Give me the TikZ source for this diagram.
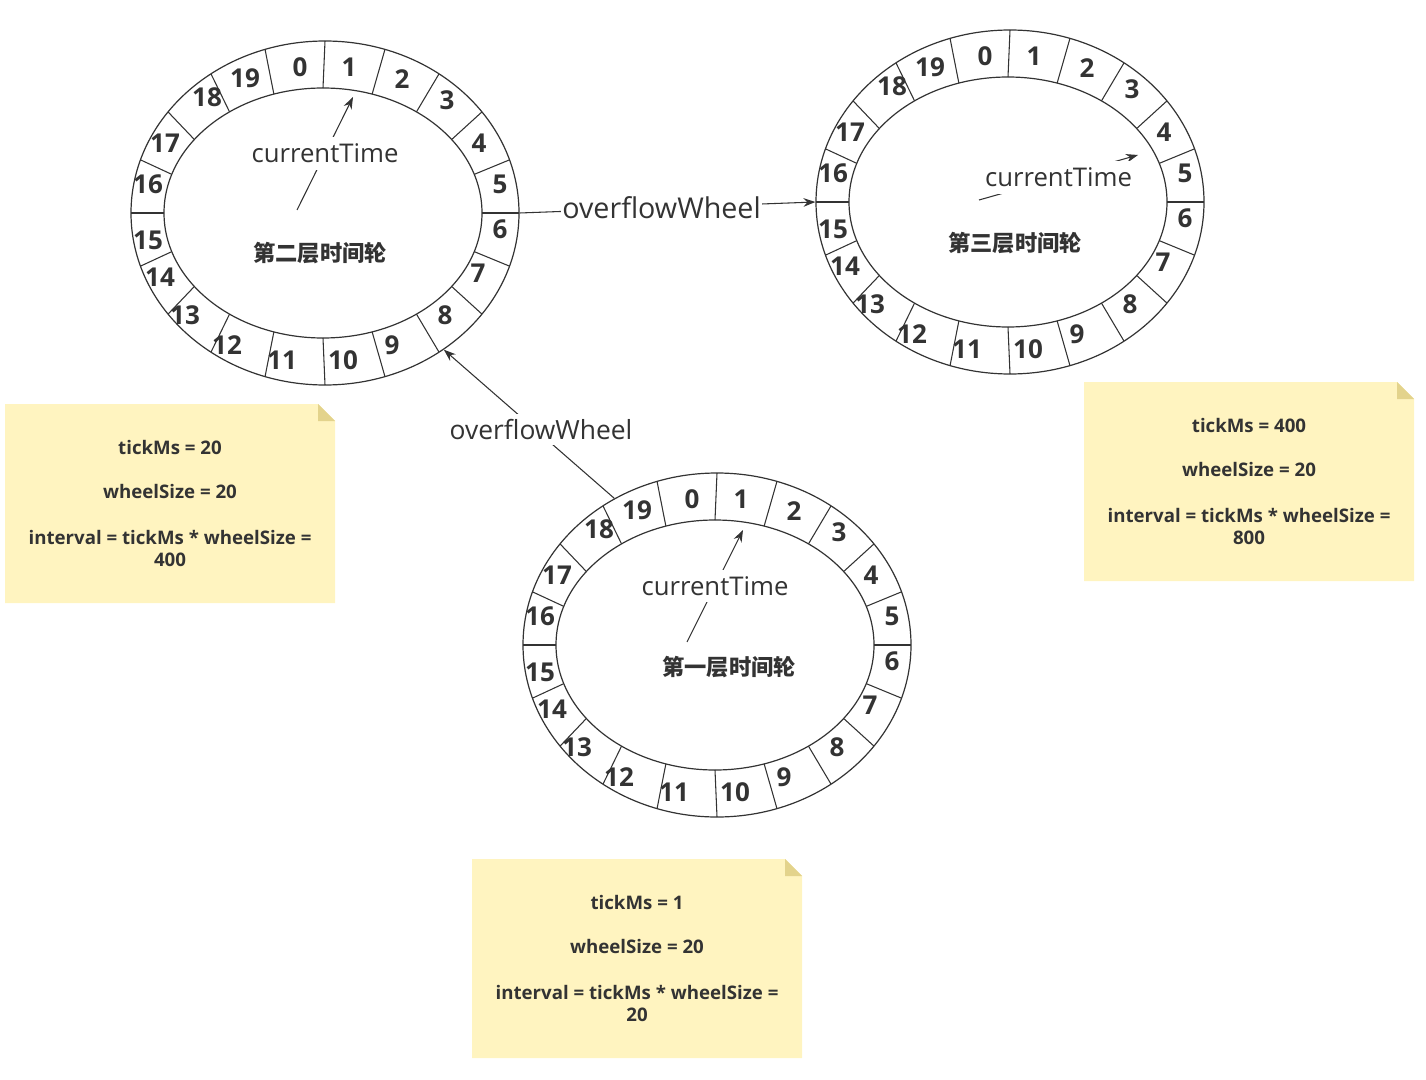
\documentclass[tikz,border=0pt]{standalone}
\usepackage{fontspec}
\setmainfont{Open Sans}
\newfontfamily\cjkfont{Noto Sans CJK SC}
\usetikzlibrary{shapes.geometric, arrows.meta}

\definecolor{inkgray}{RGB}{51,51,51}
\definecolor{notefill}{RGB}{255,244,192}
\definecolor{notefold}{RGB}{227,211,140}

\begin{document}
\begin{tikzpicture}[x=0.75pt,y=0.75pt,yscale=-1,xscale=1,
  ring/.style={draw=inkgray, line width=0.9pt, ellipse, inner sep=0pt, minimum width=291pt, minimum height=258pt},
  slot/.style={font=\bfseries\fontsize{19.5}{20}\selectfont, text=inkgray, inner sep=0pt},
  tag/.style={font=\fontsize{19.3}{21}\selectfont, text=inkgray, fill=white, inner xsep=1pt, inner ysep=5pt},
  ovf/.style={font=\fontsize{21.5}{24}\selectfont, text=inkgray, fill=white, inner xsep=1pt, inner ysep=4pt},
  layer/.style={font=\cjkfont\bfseries\fontsize{16.7}{18}\selectfont, text=inkgray},
  memo/.style={font=\bfseries\fontsize{14}{16.5}\selectfont, text=inkgray, align=center},
  link/.style={draw=inkgray, line width=0.8pt, -{Stealth[length=9pt,width=6.5pt]}}
]
\useasboundingbox (0,0) rectangle (1426,1080);

%Wheels
\foreach \cx/\cy/\nm in {717/645/w1,325/213/w2,1010/202/w3}{
  \node[ring] (\nm) at (\cx,\cy) {};
  \draw[inkgray, line width=0.9pt] (\cx-2,\cy) ellipse [x radius=159, y radius=125];
  \foreach \t in {0,18,...,342}
    \draw[inkgray, line width=0.8pt] ({\cx-2+159*cos(\t)},{\cy-125*sin(\t)}) -- ({\cx+194*cos(\t)},{\cy-172*sin(\t)});
  \foreach \k/\dx/\dy in {0/-25/-146,1/24/-146,2/77/-134,3/122/-113,4/154/-70,5/175/-29,6/175/16,7/153/60,8/120/102,9/67/132,
                          10/18/147,11/-43/147,12/-98/132,13/-140/102,14/-165/64,15/-177/27,16/-177/-29,17/-160/-70,18/-118/-116,19/-80/-135}
    \node[slot] (\nm-s\k) at (\cx+\dx,\cy+\dy) {\k};
}

% Text Node
\node[layer] (w1-name) at (729,667) {第一层时间轮};
% Text Node
\node[layer] (w2-name) at (320,253) {第二层时间轮};
% Text Node
\node[layer] (w3-name) at (1015,243) {第三层时间轮};

%currentTime pointers
\coordinate (w1-hand) at (687,642);
\coordinate (w1-tip) at (743,530);
\draw[link] (w1-hand) -- node[tag] {currentTime} (w1-tip);
\coordinate (w2-hand) at (297,210);
\coordinate (w2-tip) at (353,97);
\draw[link] (w2-hand) -- node[tag] {currentTime} (w2-tip);
\coordinate (w3-hand) at (979,200);
\coordinate (w3-tip) at (1138,155);
\draw[link] (w3-hand) -- node[tag] {currentTime} (w3-tip);

%overflowWheel links
\draw[link] (w2.east) -- node[ovf, pos=0.48] {overflowWheel} (w3.west);
\draw[link] (w1.125) -- node[ovf, pos=0.43, yshift=4pt, font=\fontsize{19.8}{22}\selectfont] {overflowWheel} (w2.-49);

%Notes
\foreach \nx/\ny/\tick/\ival/\nm in {5/404/20/400/note2,1084/382/400/800/note3,472/859/1/20/note1}{
  \fill[notefill] (\nx,\ny) -- (\nx+313,\ny) -- (\nx+330,\ny+17) -- (\nx+330,\ny+199) -- (\nx,\ny+199) -- cycle;
  \fill[notefold] (\nx+313,\ny) -- (\nx+313,\ny+17) -- (\nx+330,\ny+17) -- cycle;
  \node[memo] (\nm) at (\nx+165,\ny+99.5) {tickMs = \tick\\[16.5pt]wheelSize = 20\\[18pt]interval = tickMs * wheelSize =\\\ival};
}

\end{tikzpicture}
\end{document}
